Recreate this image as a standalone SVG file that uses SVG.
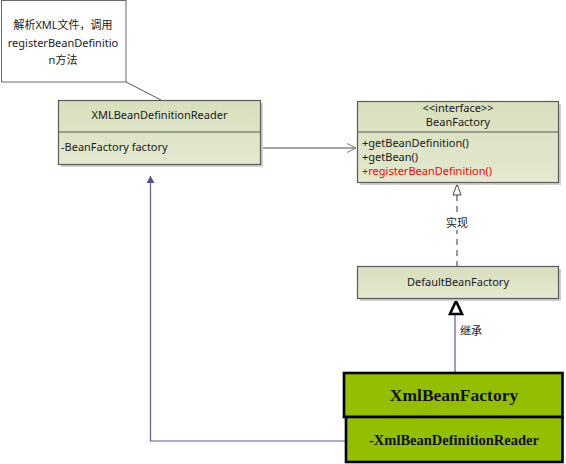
<svg xmlns="http://www.w3.org/2000/svg" width="566" height="464" viewBox="0 0 566 464">
<style>
.box{fill:url(#g);stroke:#5a5a5a;stroke-width:1.2}
.sh{fill:#cfcfcf}
.t{font-family:"Microsoft YaHei","Noto Sans","Noto Sans CJK SC",sans-serif;font-size:11px;fill:#1a1a1a}
.c{text-anchor:middle}
.gb{fill:#94bf00;stroke:#000;stroke-width:2.6}
.bt{font-family:"Liberation Serif","Times New Roman",serif;font-weight:bold;fill:#111;text-anchor:middle}
</style>
<defs>
<linearGradient id="g" x1="0" y1="0" x2="0" y2="1">
<stop offset="0" stop-color="#d8dfbd"/>
<stop offset="1" stop-color="#e3e8cf"/>
</linearGradient>
<marker id="tri" markerWidth="8" markerHeight="8" refX="7" refY="4" orient="auto" markerUnits="userSpaceOnUse">
<path d="M0,0 L7,4 L0,8 Z" fill="#4f4f8f"/>
</marker>
</defs>
<rect width="566" height="464" fill="#fff"/>

<g id="note">
<rect x="1.5" y="0.5" width="124.5" height="81.5" fill="#fff" stroke="#6a6a6a" stroke-width="1"/>
<text class="t c" x="63" y="29">解析XML文件，调用</text>
<text class="t c" x="63" y="47">registerBeanDefinitio</text>
<text class="t c" x="63" y="64">n方法</text>
</g>

<g id="connectors">
<line x1="126" y1="82" x2="161" y2="100" stroke="#555" stroke-width="1"/>
<line x1="261" y1="148" x2="356" y2="148" stroke="#888" stroke-width="1.5"/>
<path d="M347,143.5 L356,148 L347,152.5" fill="none" stroke="#777" stroke-width="1"/>
<line x1="457" y1="195" x2="457" y2="266" stroke="#333" stroke-width="1" stroke-dasharray="6,5"/>
<rect x="444" y="215" width="26" height="15" fill="#fff"/>
<path d="M457,184 L461,195 L453,195 Z" fill="#fff" stroke="#444" stroke-width="1"/>
<text class="t c" x="457" y="227">实现</text>
<line x1="455" y1="315" x2="455" y2="373" stroke="#5a5aa0" stroke-width="1.2"/>
<path d="M456,301 L462,314 L450,314 Z" fill="#fff" stroke="#000" stroke-width="2.6" stroke-linejoin="miter"/>
<text class="t" x="460" y="335">继承</text>
<polyline points="345,441 150.5,441 150.5,176" fill="none" stroke="#5a5aa0" stroke-width="1.2" marker-end="url(#tri)"/>
</g>

<g id="XMLBeanDefinitionReader">
<rect class="sh" x="61" y="103" width="202" height="64"/>
<rect class="box" x="58.5" y="100.5" width="202" height="64"/>
<line x1="58.5" y1="132" x2="260.5" y2="132" stroke="#5a5a5a" stroke-width="1.2"/>
<text class="t c" x="159.5" y="119">XMLBeanDefinitionReader</text>
<text class="t" x="61" y="151">-BeanFactory factory</text>
</g>

<g id="BeanFactory">
<rect class="sh" x="360" y="104" width="201" height="81"/>
<rect class="box" x="357.5" y="101.5" width="201" height="81"/>
<line x1="357.5" y1="132" x2="558.5" y2="132" stroke="#5a5a5a" stroke-width="1.2"/>
<text class="t c" x="458" y="112">&lt;&lt;interface&gt;&gt;</text>
<text class="t c" x="458" y="126">BeanFactory</text>
<text class="t" x="362" y="147">+getBeanDefinition()</text>
<text class="t" x="362" y="161">+getBean()</text>
<text class="t" x="362" y="175" style="fill:#ff0000">+registerBeanDefinition()</text>
</g>

<g id="DefaultBeanFactory">
<rect class="sh" x="360" y="269" width="201" height="32"/>
<rect class="box" x="357.5" y="266.5" width="201" height="32"/>
<text class="t c" x="458" y="286">DefaultBeanFactory</text>
</g>

<g id="XmlBeanFactory">
<rect class="gb" x="344" y="373" width="218.5" height="44"/>
<rect class="gb" x="346" y="417" width="216.5" height="45"/>
<text class="bt" x="454" y="401" font-size="17.5">XmlBeanFactory</text>
<text class="bt" x="454" y="445" font-size="14.5">-XmlBeanDefinitionReader</text>
</g>
</svg>
